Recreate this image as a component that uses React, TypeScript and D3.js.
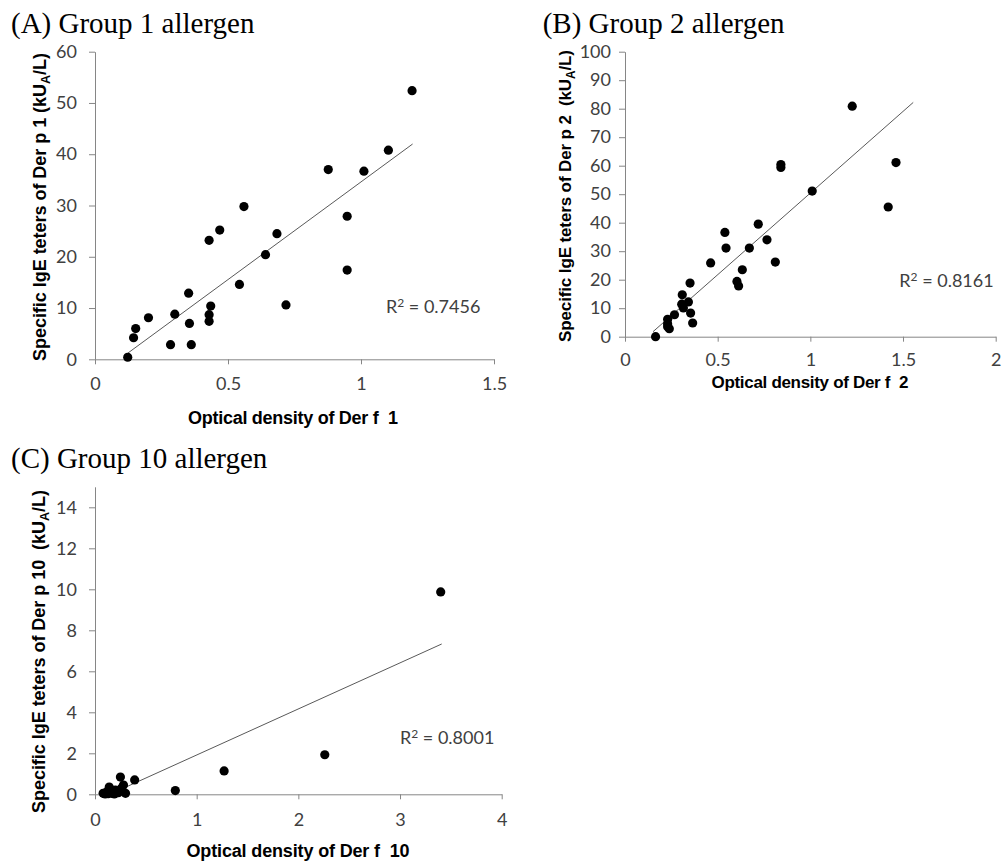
import * as React from "react";
import { select, scaleLinear, axisLeft, axisBottom, range } from "d3";

// (A) group 1: optical density of Der f 1 vs specific IgE to Der p 1
const odDerF1 = [0.123, 0.145, 0.153, 0.201, 0.284, 0.3, 0.352, 0.355, 0.362, 0.429, 0.429, 0.429, 0.435, 0.469, 0.543, 0.56, 0.641, 0.684, 0.718, 0.948, 0.948, 0.877, 1.011, 1.103, 1.192];
const igeDerP1 = [0.4, 4.2, 6.0, 8.1, 2.85, 8.8, 12.9, 7.0, 2.85, 23.2, 8.7, 7.4, 10.4, 25.2, 14.6, 29.8, 20.4, 24.5, 10.6, 27.9, 17.4, 37.0, 36.7, 40.8, 52.4];
const fitGroup1 = [38.1, -3.5]; // slope, intercept
const fitRange1 = [0.123, 1.194];

// (B) group 2
const odDerF2 = [0.165, 0.23, 0.23, 0.23, 0.239, 0.267, 0.309, 0.306, 0.315, 0.342, 0.351, 0.354, 0.365, 0.462, 0.539, 0.545, 0.604, 0.613, 0.633, 0.671, 0.719, 0.766, 0.811, 1.01, 1.42, 0.841, 0.841, 1.226, 1.462];
const igeDerP2 = [0, 6.1, 4.5, 3.5, 2.8, 7.7, 14.7, 11.4, 10.1, 12.2, 18.8, 8.3, 4.8, 25.9, 36.6, 31.1, 19.4, 17.8, 23.5, 31.1, 39.5, 34.0, 26.2, 51.1, 45.5, 60.4, 59.4, 80.9, 61.1];
const fitGroup2 = [57.3, -6.9];
const fitRange2 = [0.151, 1.555];

// (C) group 10
const odDerF10 = [0.08, 0.1, 0.11, 0.13, 0.14, 0.15, 0.17, 0.19, 0.2, 0.22, 0.23, 0.25, 0.26, 0.28, 0.3, 0.39, 0.79, 1.27, 2.26, 3.4];
const igeDerP10 = [0.05, 0.02, 0.1, 0.03, 0.35, 0.13, 0.05, 0.02, 0.2, 0.16, 0.08, 0.84, 0.3, 0.45, 0.05, 0.7, 0.18, 1.14, 1.93, 9.87];
const fitGroup10 = [2.247, -0.33];
const fitRange10 = [0.15, 3.41];

const titles = ["(A) Group 1 allergen", "(B) Group 2 allergen", "(C) Group 10 allergen"];
const rSquared = ["0.7456", "0.8161", "0.8001"];
const xLabels = ["Optical density of Der f  1", "Optical density of Der f  2", "Optical density of Der f  10"];
const yLabelHeads = ["Specific IgE teters of Der p 1 (kU", "Specific IgE teters of Der p 2  (kU", "Specific IgE teters of Der p 10  (kU"];

const panels = [
    {
        xs: odDerF1, ys: igeDerP1, fit: fitGroup1, fitRange: fitRange1,
        xMax: 1.5, yMax: 60, xTicks: [0, 0.5, 1, 1.5], yTicks: range(0, 61, 10),
        box: { left: 95, right: 494, top: 51.7, bottom: 359.3 },
        titlePos: [11, 33], r2Pos: [386, 313], yPad: 12, xPad: 12.7,
        xLab: { x: 293, y: 424, len: 210, size: 18 },
        yLab: { x: 46, y: 207, len: 308, size: 18 }
    },
    {
        xs: odDerF2, ys: igeDerP2, fit: fitGroup2, fitRange: fitRange2,
        xMax: 2, yMax: 100, xTicks: [0, 0.5, 1, 1.5, 2], yTicks: range(0, 101, 10),
        box: { left: 625, right: 995.7, top: 51.7, bottom: 336.7 },
        titlePos: [542.7, 33], r2Pos: [899.3, 286.5], yPad: 8, xPad: 12,
        xLab: { x: 810, y: 387.5, len: 197, size: 17 },
        yLab: { x: 571, y: 196, len: 292, size: 17 }
    },
    {
        xs: odDerF10, ys: igeDerP10, fit: fitGroup10, fitRange: fitRange10,
        xMax: 4, yMax: 15, xTicks: [0, 1, 2, 3, 4], yTicks: range(0, 15, 2),
        box: { left: 95, right: 501.7, top: 486.8, bottom: 794.3 },
        titlePos: [11, 468.3], r2Pos: [400, 743.5], yPad: 12, xPad: 14.4,
        xLab: { x: 298, y: 856.5, len: 223, size: 18 },
        yLab: { x: 45, y: 651.5, len: 323, size: 18 }
    }
];

const AXIS = "#868686";
const TICK_TEXT = "#404040";
const TICK_FONT = "Lato, 'Open Sans', sans-serif";

function App() {
    const svgRef = React.useRef(null);

    React.useEffect(() => {
        const svg = select(svgRef.current);
        svg.selectAll("*").remove();

        panels.forEach((p, i) => {
            const b = p.box;
            const xScale = scaleLinear().domain([0, p.xMax]).range([b.left, b.right]);
            const yScale = scaleLinear().domain([0, p.yMax]).range([b.bottom, b.top]);
            const g = svg.append("g");

            // panel title
            g.append("text")
                .attr("x", p.titlePos[0])
                .attr("y", p.titlePos[1])
                .attr("font-family", "'Liberation Serif', 'Times New Roman', serif")
                .attr("font-size", 29)
                .attr("fill", "#000")
                .text(titles[i]);

            // axes
            const xAxis = g.append("g")
                .attr("transform", `translate(0, ${b.bottom})`)
                .call(axisBottom(xScale).tickValues(p.xTicks).tickSize(5).tickSizeOuter(0)
                    .tickPadding(p.xPad).tickFormat(d => `${d}`));
            const yAxis = g.append("g")
                .attr("transform", `translate(${b.left}, 0)`)
                .call(axisLeft(yScale).tickValues(p.yTicks).tickSize(6).tickSizeOuter(0)
                    .tickPadding(p.yPad).tickFormat(d => `${d}`));
            [xAxis, yAxis].forEach(ax => {
                ax.attr("font-family", TICK_FONT).attr("font-size", 18);
                ax.select(".domain").attr("stroke", AXIS);
                ax.selectAll(".tick line").attr("stroke", AXIS);
                ax.selectAll(".tick text").attr("fill", TICK_TEXT);
            });

            // linear trendline
            const [slope, intercept] = p.fit;
            g.append("line")
                .attr("x1", xScale(p.fitRange[0]))
                .attr("y1", yScale(slope * p.fitRange[0] + intercept))
                .attr("x2", xScale(p.fitRange[1]))
                .attr("y2", yScale(slope * p.fitRange[1] + intercept))
                .attr("stroke", "#595959")
                .attr("stroke-width", 1);

            // points
            g.selectAll("circle")
                .data(p.xs.map((x, k) => [x, p.ys[k]]))
                .join("circle")
                .attr("cx", d => xScale(d[0]))
                .attr("cy", d => yScale(d[1]))
                .attr("r", 4.6)
                .attr("fill", "#000");

            // R squared
            const r2 = g.append("text")
                .attr("x", p.r2Pos[0])
                .attr("y", p.r2Pos[1])
                .attr("font-family", TICK_FONT)
                .attr("font-size", 18)
                .attr("fill", TICK_TEXT)
                .style("white-space", "pre");
            r2.append("tspan").text("R");
            r2.append("tspan").attr("dy", -6).attr("font-size", 12).text("2");
            r2.append("tspan").attr("dy", 6).text(` = ${rSquared[i]}`);

            // x title
            g.append("text")
                .attr("x", p.xLab.x)
                .attr("y", p.xLab.y)
                .attr("text-anchor", "middle")
                .attr("font-family", "'Liberation Sans', Arial, sans-serif")
                .attr("font-weight", "bold")
                .attr("font-size", p.xLab.size)
                .attr("textLength", p.xLab.len)
                .attr("lengthAdjust", "spacing")
                .style("white-space", "pre")
                .text(xLabels[i]);

            // y title with subscript A
            const yt = g.append("text")
                .attr("transform", `translate(${p.yLab.x}, ${p.yLab.y}) rotate(-90)`)
                .attr("text-anchor", "middle")
                .attr("font-family", "'Liberation Sans', Arial, sans-serif")
                .attr("font-weight", "bold")
                .attr("font-size", p.yLab.size)
                .attr("textLength", p.yLab.len)
                .attr("lengthAdjust", "spacing")
                .style("white-space", "pre");
            yt.append("tspan").text(yLabelHeads[i]);
            yt.append("tspan").attr("dy", 4).attr("font-size", p.yLab.size * 0.7).text("A");
            yt.append("tspan").attr("dy", -4).text("/L)");
        });
    }, []);

    return (
        <svg
            ref={svgRef}
            width={1008}
            height={863}
            style={{ position: "absolute", left: 0, top: 0, background: "#fff" }}
        />
    );
}

export default App;
